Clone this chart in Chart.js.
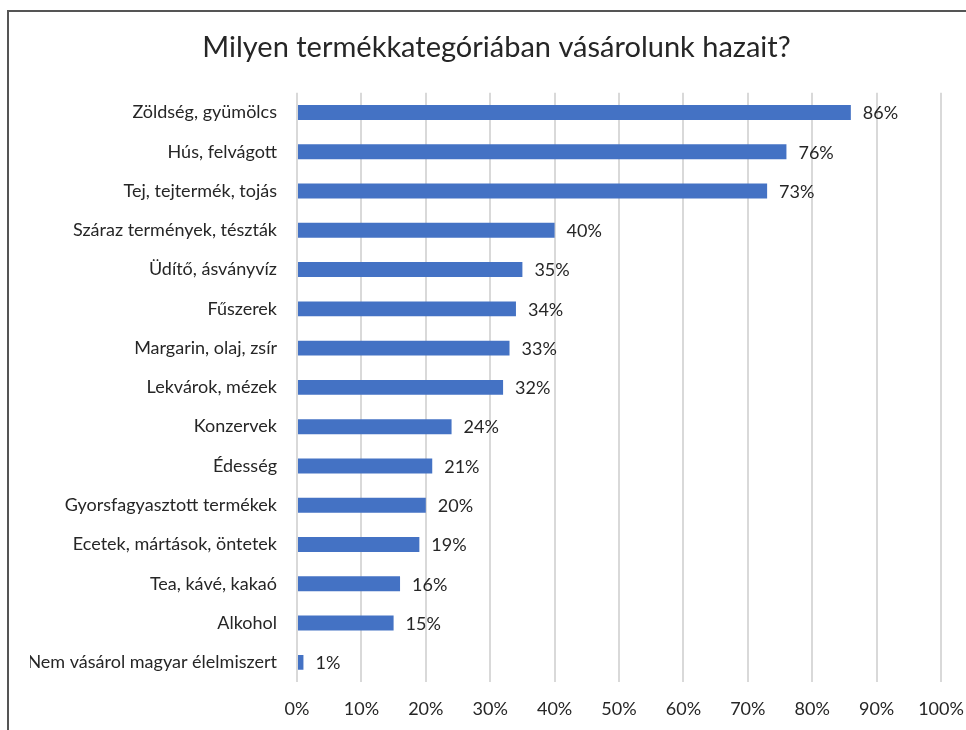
<!DOCTYPE html>
<html>
<head>
<meta charset="utf-8">
<script src="https://cdn.jsdelivr.net/npm/chart.js@4"></script>
<style>
  html, body { margin: 0; padding: 0; background: #fff; overflow: hidden; }
  #wrap { position: relative; width: 966px; height: 730px; overflow: hidden; }
  #frame { position: absolute; left: 7px; top: 10px; width: 1000px; height: 800px;
           border-top: 2px solid #555; border-left: 2px solid #555; }
  #canvas { position: absolute; left: 0; top: 0; }
</style>
</head>
<body>
<div id="wrap">
  <div id="frame"></div>
  <canvas id="canvas" width="986" height="730"></canvas>
</div>
<script>
var categories = [
  'Zöldség, gyümölcs',
  'Hús, felvágott',
  'Tej, tejtermék, tojás',
  'Száraz termények, tészták',
  'Üdítő, ásványvíz',
  'Fűszerek',
  'Margarin, olaj, zsír',
  'Lekvárok, mézek',
  'Konzervek',
  'Édesség',
  'Gyorsfagyasztott termékek',
  'Ecetek, mártások, öntetek',
  'Tea, kávé, kakaó',
  'Alkohol',
  'Nem vásárol magyar élelmiszert'
];
var shares = [86, 76, 73, 40, 35, 34, 33, 32, 24, 21, 20, 19, 16, 15, 1];
var tickValues = [0, 10, 20, 30, 40, 50, 60, 70, 80, 90, 100];

var fontFamily = 'Lato, "Open Sans", sans-serif';
var textColor = '#262626';

// writes the percentage next to the end of every bar
var valueLabels = {
  id: 'valueLabels',
  afterDatasetsDraw: function(chart) {
    var ctx = chart.ctx;
    var meta = chart.getDatasetMeta(0);
    ctx.save();
    ctx.font = '18px ' + fontFamily;
    ctx.fillStyle = textColor;
    ctx.textAlign = 'left';
    ctx.textBaseline = 'middle';
    meta.data.forEach(function(bar, i) {
      ctx.fillText(shares[i] + '%', bar.x + 12, bar.y + 1);
    });
    ctx.restore();
  }
};

var ctx = document.getElementById('canvas').getContext('2d');
var myChart = new Chart(ctx, {
  type: 'bar',
  data: {
    labels: categories,
    datasets: [{
      data: shares,
      backgroundColor: '#4472C4',
      borderWidth: 0,
      barPercentage: 0.38,
      categoryPercentage: 1
    }]
  },
  plugins: [valueLabels],
  options: {
    indexAxis: 'y',
    responsive: false,
    animation: false,
    layout: { padding: { left: 30, right: 23, top: 10, bottom: 10 } },
    plugins: {
      legend: { display: false },
      tooltip: { enabled: false },
      title: {
        display: true,
        text: 'Milyen termékkategóriában vásárolunk hazait?',
        color: textColor,
        font: { family: fontFamily, size: 29, weight: 'normal' },
        padding: { top: 20, bottom: 28 }
      }
    },
    scales: {
      x: {
        min: 0,
        max: 100,
        afterBuildTicks: function(scale) {
          scale.ticks = tickValues.map(function(v) { return { value: v }; });
        },
        afterFit: function(scale) {
          scale.height = 38;
          scale.paddingRight = 45;
        },
        border: { display: false },
        grid: { color: '#d9d9d9', lineWidth: 2, drawTicks: false },
        ticks: {
          padding: 16,
          maxRotation: 0,
          color: textColor,
          font: { family: fontFamily, size: 18 },
          callback: function(v) { return v + '%'; }
        }
      },
      y: {
        border: { display: false },
        grid: { display: false, drawTicks: false },
        afterFit: function(scale) {
          scale.width = 267;
          scale.paddingTop = 0;
          scale.paddingBottom = 0;
        },
        ticks: {
          padding: 20,
          color: textColor,
          font: { family: fontFamily, size: 18 }
        }
      }
    }
  }
});
</script>
</body>
</html>
